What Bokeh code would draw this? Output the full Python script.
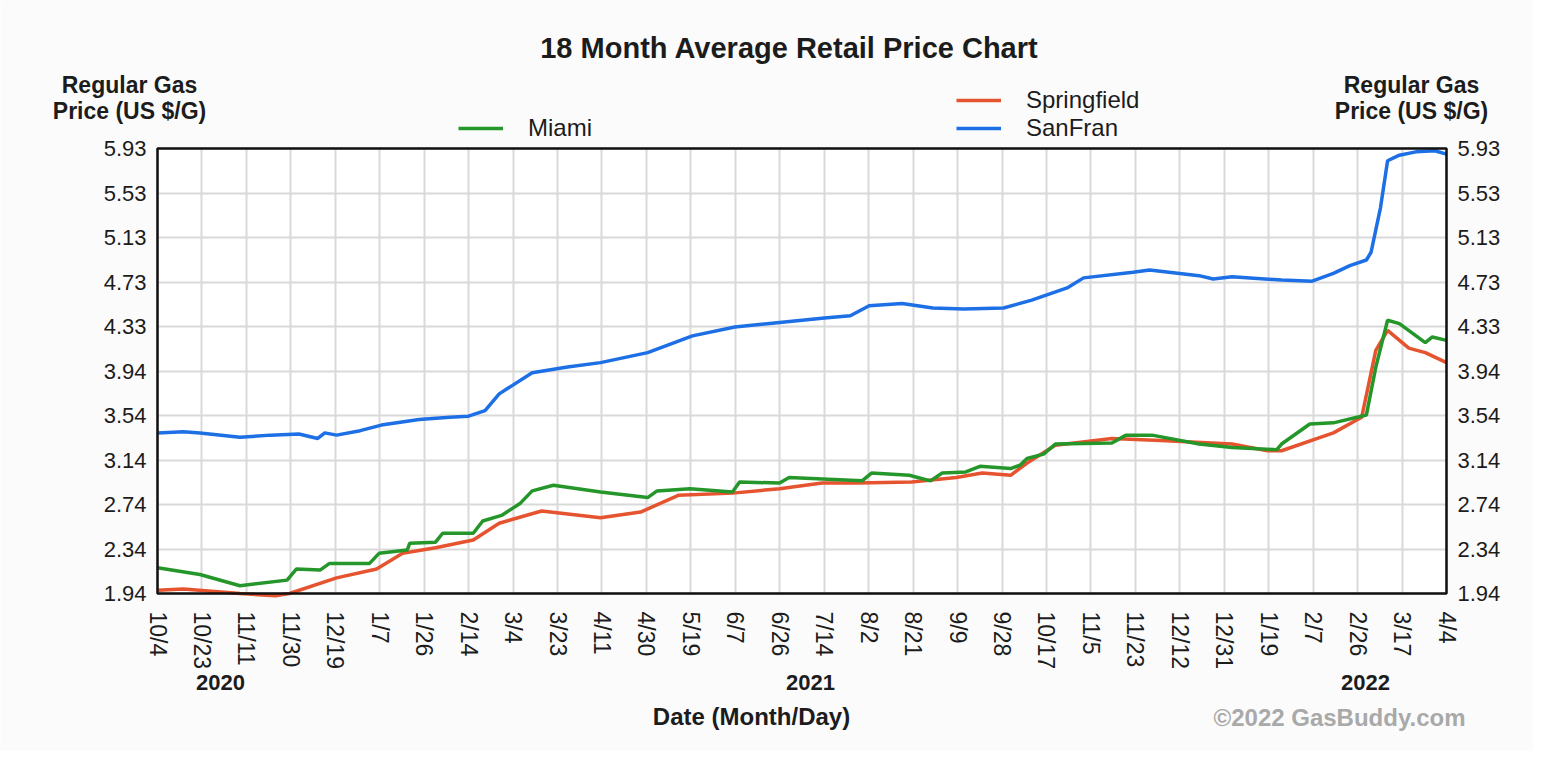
import math
from bokeh.plotting import figure
from bokeh.models import (FixedTicker, LinearAxis, Label, Legend, LegendItem,
                          Range1d, CustomJSTickFormatter, BoxAnnotation)
from bokeh.embed import file_html
from bokeh.resources import INLINE

# ---------------- data ----------------
# x values are days since 2020-10-04 (first tick) ; last tick 2022-04-04
start_date = "2020-10-04"
total_days = 547
x_tick_labels = ["10/4", "10/23", "11/11", "11/30", "12/19", "1/7", "1/26", "2/14",
                 "3/4", "3/23", "4/11", "4/30", "5/19", "6/7", "6/26", "7/14", "8/2",
                 "8/21", "9/9", "9/28", "10/17", "11/5", "11/23", "12/12", "12/31",
                 "1/19", "2/7", "2/26", "3/17", "4/4"]
year_labels = ["2020", "2021", "2022"]
y_tick_labels = ["1.94", "2.34", "2.74", "3.14", "3.54", "3.94", "4.33", "4.73",
                 "5.13", "5.53", "5.93"]
y_min, y_max = 1.94, 5.93

sanfran_days = [0, 11, 18, 35, 48, 60, 68, 71, 76, 86, 95, 111, 124, 132, 139, 145,
                159, 174, 188, 208, 227, 245, 264, 283, 294, 302, 316, 329, 342, 359,
                371, 386, 393, 414, 421, 442, 448, 456, 477, 490, 499, 506, 513, 515,
                519, 522, 527, 534, 542, 547]
sanfran_price = [3.38, 3.39, 3.38, 3.34, 3.36, 3.37, 3.33, 3.38, 3.36, 3.40, 3.45, 3.50,
                 3.52, 3.53, 3.58, 3.73, 3.92, 3.97, 4.01, 4.10, 4.25, 4.33, 4.37, 4.41,
                 4.43, 4.52, 4.54, 4.50, 4.49, 4.50, 4.57, 4.68, 4.77, 4.82, 4.84, 4.79,
                 4.76, 4.78, 4.75, 4.74, 4.81, 4.88, 4.93, 5.00, 5.40, 5.82, 5.87, 5.90,
                 5.91, 5.88]

miami_days = [0, 18, 35, 55, 59, 69, 73, 90, 94, 106, 107, 118, 121, 134, 138, 146, 154,
              159, 168, 188, 208, 212, 226, 244, 247, 264, 268, 299, 303, 319, 328, 333,
              343, 349, 362, 366, 369, 376, 381, 405, 411, 422, 442, 456, 475, 477, 489,
              499, 513, 517, 522, 527, 538, 541, 547]
miami_price = [2.17, 2.11, 2.01, 2.06, 2.16, 2.15, 2.21, 2.21, 2.30, 2.33, 2.39, 2.40,
               2.48, 2.48, 2.59, 2.64, 2.75, 2.86, 2.91, 2.85, 2.80, 2.86, 2.88, 2.85,
               2.94, 2.93, 2.98, 2.95, 3.02, 3.00, 2.95, 3.02, 3.03, 3.08, 3.06, 3.09,
               3.15, 3.19, 3.28, 3.29, 3.36, 3.36, 3.28, 3.25, 3.23, 3.28, 3.46, 3.47,
               3.54, 3.97, 4.39, 4.36, 4.19, 4.24, 4.21]

springfield_days = [0, 11, 35, 50, 56, 76, 93, 104, 118, 134, 145, 163, 188, 205, 221,
                    244, 264, 282, 297, 320, 339, 350, 362, 369, 381, 405, 428, 456, 471,
                    477, 499, 511, 517, 522, 531, 538, 547]
springfield_price = [1.97, 1.98, 1.94, 1.92, 1.94, 2.08, 2.16, 2.30, 2.35, 2.42, 2.57,
                     2.68, 2.62, 2.67, 2.82, 2.84, 2.88, 2.93, 2.93, 2.94, 2.98, 3.02,
                     3.00, 3.11, 3.27, 3.33, 3.31, 3.28, 3.22, 3.22, 3.38, 3.52, 4.12,
                     4.30, 4.14, 4.10, 4.01]

# ---------------- layout / styling ----------------
W, H = 1533, 751
BOX_L, BOX_R, BOX_T, BOX_B = 157, 1446, 148, 593   # plot box in page pixels
FONT = "Liberation Sans"
GREEN = "#25962a"
RED = "#e5532f"
BLUE = "#1d6fe5"
TEXT = "#1c1c1c"

kx = (BOX_R - BOX_L) / total_days
ky = (BOX_B - BOX_T) / (y_max - y_min)
x_start = -BOX_L / kx
x_end = x_start + W / kx
y_top = y_max + BOX_T / ky
y_bot = y_min - (H - BOX_B) / ky

n_x = len(x_tick_labels)
x_step = total_days / (n_x - 1)
x_ticks = [i * x_step for i in range(n_x)]
n_y = len(y_tick_labels)
y_step = (y_max - y_min) / (n_y - 1)
y_ticks = [y_min + i * y_step for i in range(n_y)]

p = figure(width=W, height=H,
           x_range=Range1d(x_start, x_end), y_range=Range1d(y_bot, y_top),
           output_backend="svg", toolbar_location=None,
           min_border=0, min_border_left=0, min_border_right=0,
           min_border_top=0, min_border_bottom=0,
           background_fill_color="#fbfbfb", border_fill_color="#fbfbfb",
           outline_line_color=None)

# white plot box
p.add_layout(BoxAnnotation(left=0, right=total_days, bottom=y_min, top=y_max,
                           fill_color="white", fill_alpha=1, line_color=None,
                           level="image"))

xfmt = CustomJSTickFormatter(args=dict(labels=x_tick_labels, step=x_step),
                             code="return labels[Math.round(tick/step)] || '';")
yfmt = CustomJSTickFormatter(args=dict(labels=y_tick_labels, step=y_step, y0=y_min),
                             code="return labels[Math.round((tick-y0)/step)] || '';")
xt = FixedTicker(ticks=x_ticks)
yt = FixedTicker(ticks=y_ticks)

right_axis = LinearAxis()
p.add_layout(right_axis, "right")


def style_axis(ax, size):
    ax.axis_line_color = None
    ax.major_tick_line_color = None
    ax.minor_tick_line_color = None
    ax.major_tick_out = 0
    ax.major_tick_in = 0
    ax.minor_tick_out = 0
    ax.minor_tick_in = 0
    ax.major_label_text_font = FONT
    ax.major_label_text_font_size = size
    ax.major_label_text_color = TEXT


left_axis = p.yaxis[0]
for ax, loc in ((left_axis, 0), (right_axis, total_days)):
    style_axis(ax, "22px")
    ax.ticker = yt
    ax.formatter = yfmt
    ax.major_label_standoff = 11
    ax.fixed_location = loc

xa = p.xaxis[0]
style_axis(xa, "23px")
xa.ticker = xt
xa.formatter = xfmt
xa.major_label_orientation = -math.pi / 2
xa.major_label_standoff = 18
xa.fixed_location = y_min

# grid lines limited to the plot box
gx, gy = p.xgrid[0], p.ygrid[0]
gx.ticker = xt
gy.ticker = yt
GRID_COLOR = "#d9d9d9"
if "cross_bounds" in gx.properties():
    gx.cross_bounds = (y_min, y_max)
    gy.cross_bounds = (0, total_days)
    for g in (gx, gy):
        g.grid_line_color = GRID_COLOR
        g.grid_line_width = 2
else:
    gx.visible = False
    gy.visible = False
    p.segment(x0=x_ticks, y0=[y_min] * n_x, x1=x_ticks, y1=[y_max] * n_x,
              line_color=GRID_COLOR, line_width=2, level="underlay")
    p.segment(x0=[0] * n_y, y0=y_ticks, x1=[total_days] * n_y, y1=y_ticks,
              line_color=GRID_COLOR, line_width=2, level="underlay")

r_red = p.line(springfield_days, springfield_price, line_color=RED, line_width=3.5)
r_green = p.line(miami_days, miami_price, line_color=GREEN, line_width=3.5)
r_blue = p.line(sanfran_days, sanfran_price, line_color=BLUE, line_width=3.5)

# frame border
p.add_layout(BoxAnnotation(left=0, right=total_days, bottom=y_min, top=y_max,
                           fill_alpha=0, line_color="#111111", line_alpha=1,
                           line_width=2.5, level="annotation"))


def legend(items, px, py_bottom):
    lg = Legend(items=items, location=(px, H - py_bottom), orientation="vertical",
                glyph_width=45, glyph_height=20, label_height=20,
                label_standoff=25, padding=0, spacing=0, margin=0,
                border_line_color=None, background_fill_alpha=0,
                label_text_font=FONT, label_text_font_size="24px",
                label_text_color=TEXT)
    p.add_layout(lg)


legend([LegendItem(label="Miami", renderers=[r_green])], 458, 142)
legend([LegendItem(label="Springfield", renderers=[r_red]),
        LegendItem(label="SanFran", renderers=[r_blue])], 956, 142)


# texts placed in page pixels (x from left, y from top)
def label(text, x, y, size, bold=True, color=TEXT, align="center"):
    p.add_layout(Label(x=x, y=H - y, x_units="screen", y_units="screen", text=text,
                       text_font=FONT, text_font_size=size,
                       text_font_style="bold" if bold else "normal",
                       text_color=color, text_align=align, text_baseline="middle"))


label("18 Month Average Retail Price Chart", 789, 47, "29px")
label("Regular Gas", 129, 84, "23px")
label("Price (US $/G)", 129, 110, "23px")
label("Regular Gas", 1411, 84, "23px")
label("Price (US $/G)", 1411, 110, "23px")
for txt, xs in zip(year_labels, [220, 810, 1365]):
    label(txt, xs, 682, "22px")
label("Date (Month/Day)", 751, 716, "24px")
label("\u00a92022 GasBuddy.com", 1339, 717, "24px", color="#a9a9a9")

open("out.html", "w").write(file_html(p, INLINE))
